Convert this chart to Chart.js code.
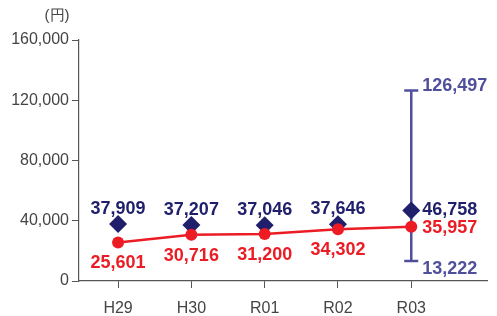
<!DOCTYPE html>
<html>
<head>
<meta charset="utf-8">
<script src="https://cdn.jsdelivr.net/npm/chart.js@4/dist/chart.umd.min.js"></script>
<style>
  html, body { margin: 0; padding: 0; background: #fff; }
  #wrap { width: 497px; height: 316px; position: relative; }
</style>
</head>
<body>
<div id="wrap"><canvas id="chart"></canvas></div>
<script>
// ----- Data -----
const categories = ["H29", "H30", "R01", "R02", "R03"];
const averageValues = [37909, 37207, 37046, 37646, 46758];   // navy diamonds
const medianValues = [25601, 30716, 31200, 34302, 35957];    // red line
const rangeValues = [13222, 126497];                         // R03 min / max
const yTicks = [0, 40000, 80000, 120000, 160000];
const unitLabel = "(円)";

const NAVY = "#1f1f6b";
const RED = "#ec1c24";
const RANGE = "#4f4f9c";
const AXIS = "#555";
const FONT = "'Liberation Sans', Arial, sans-serif";

const fmt = (v) => v.toLocaleString("en-US");
const pts = (arr) => arr.map((v, i) => ({ x: i, y: v }));
const rangeIdx = categories.length - 1;

// ----- Labels plugin -----
const labelPlugin = {
  id: "labels",
  afterDatasetsDraw(chart) {
    const { ctx } = chart;
    ctx.save();
    ctx.font = "bold 18px " + FONT;
    ctx.textBaseline = "middle";

    const avgMeta = chart.getDatasetMeta(0);
    const medMeta = chart.getDatasetMeta(1);
    const rangeMeta = chart.getDatasetMeta(2);

    avgMeta.data.forEach((p, i) => {
      ctx.fillStyle = NAVY;
      if (i === rangeIdx) {
        ctx.textAlign = "left";
        ctx.fillText(fmt(averageValues[i]), p.x + 11, p.y - 1);
      } else {
        ctx.textAlign = "center";
        ctx.fillText(fmt(averageValues[i]), p.x, p.y - 15);
      }
    });
    medMeta.data.forEach((p, i) => {
      ctx.fillStyle = RED;
      if (i === rangeIdx) {
        ctx.textAlign = "left";
        ctx.fillText(fmt(medianValues[i]), p.x + 11, p.y + 1);
      } else {
        ctx.textAlign = "center";
        ctx.fillText(fmt(medianValues[i]), p.x, p.y + 21);
      }
    });
    ctx.fillStyle = RANGE;
    ctx.textAlign = "left";
    const lo = rangeMeta.data[0], hi = rangeMeta.data[1];
    ctx.fillText(fmt(rangeValues[1]), hi.x + 11, hi.y - 4);
    ctx.fillText(fmt(rangeValues[0]), lo.x + 11, lo.y + 8);

    // unit label
    ctx.font = "15px " + FONT;
    ctx.fillStyle = "#444";
    ctx.textAlign = "center";
    ctx.fillText(unitLabel, 57, 16);
    ctx.restore();
  }
};

new Chart(document.getElementById("chart"), {
  type: "line",
  data: {
    datasets: [
      {
        label: "avg",
        data: pts(averageValues),
        showLine: false,
        pointStyle: "rectRot",
        pointRadius: 9,
        backgroundColor: NAVY,
        borderColor: NAVY,
        borderWidth: 0,
        order: 1
      },
      {
        label: "median",
        data: pts(medianValues),
        borderColor: RED,
        backgroundColor: RED,
        borderWidth: 2.5,
        pointRadius: 6,
        pointBorderWidth: 0,
        order: 0
      },
      {
        label: "range",
        data: rangeValues.map(v => ({ x: rangeIdx, y: v })),
        borderColor: RANGE,
        backgroundColor: RANGE,
        borderWidth: 2.5,
        pointStyle: "line",
        pointRadius: 7,
        pointBorderWidth: 2.5,
        order: 2
      }
    ]
  },
  options: {
    responsive: true,
    maintainAspectRatio: false,
    animation: false,
    layout: { padding: { top: 40, right: 0, left: 0, bottom: 0 } },
    plugins: { legend: { display: false }, tooltip: { enabled: false } },
    scales: {
      x: {
        type: "linear",
        min: -0.533,
        max: 5.04,
        grid: { drawOnChartArea: false, color: AXIS, tickLength: 7 },
        border: { color: AXIS, width: 1.2 },
        afterBuildTicks: (s) => { s.ticks = categories.map((c, i) => ({ value: i })); },
        afterFit: (s) => { s.height = 35; },
        ticks: {
          callback: (v) => categories[v],
          color: "#444",
          font: { family: FONT, size: 16 },
          padding: 11,
          maxRotation: 0
        }
      },
      y: {
        min: 0,
        max: 160000,
        grid: { drawOnChartArea: false, color: AXIS, tickLength: 7 },
        border: { color: AXIS, width: 1.2 },
        afterBuildTicks: (s) => { s.ticks = yTicks.map(v => ({ value: v })); },
        afterFit: (s) => { s.width = 79; },
        ticks: {
          callback: (v) => fmt(v),
          color: "#444",
          font: { family: FONT, size: 16 },
          padding: 3
        }
      }
    }
  },
  plugins: [labelPlugin]
});
</script>
</body>
</html>
